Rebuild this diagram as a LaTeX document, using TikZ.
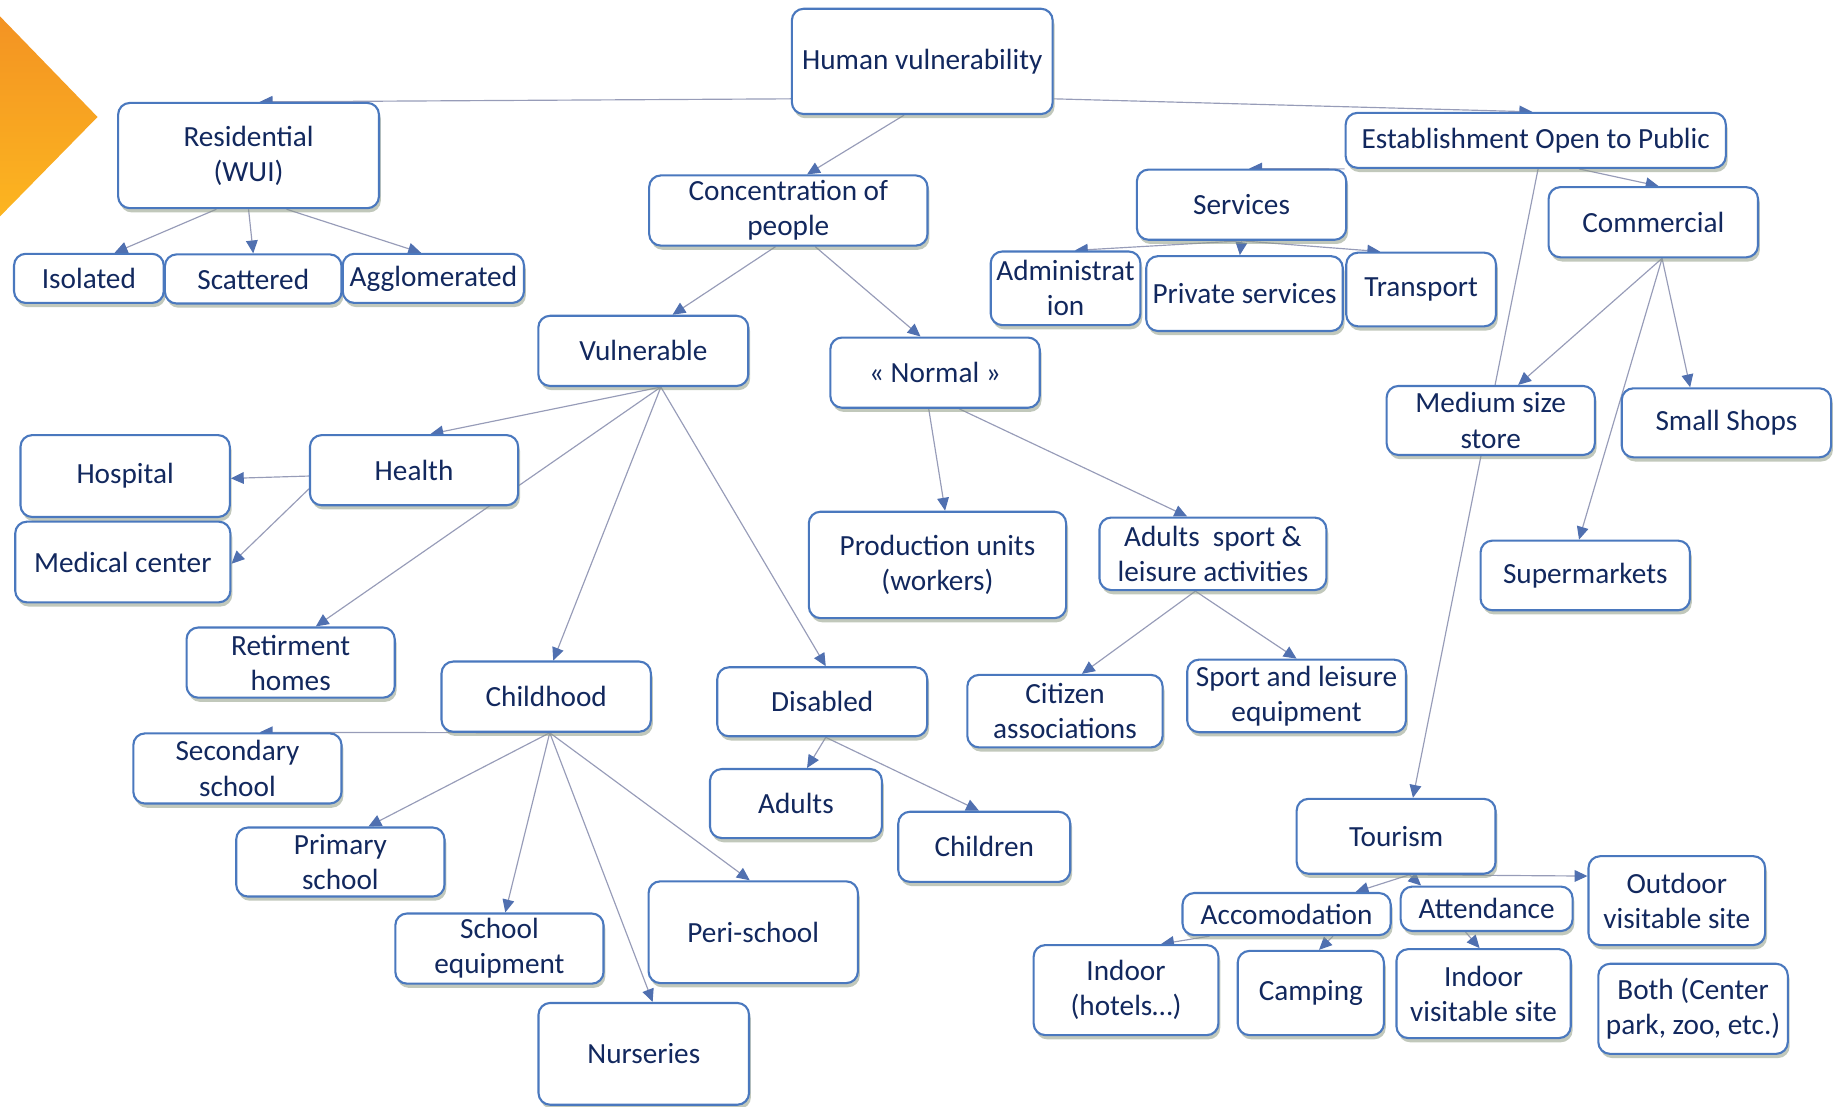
\documentclass[tikz,border=0pt]{standalone}
\usepackage{fontspec}
\setmainfont{Carlito}
\usepackage{tikz}
\usetikzlibrary{arrows.meta}
\usetikzlibrary{shadows}
\definecolor{azulcaja}{HTML}{4A78BE}
\definecolor{azultexto}{HTML}{12285E}
\definecolor{grislinea}{HTML}{979CB8}
\definecolor{azulflecha}{HTML}{5070B0}
\definecolor{sombra}{HTML}{8E9A84}
\definecolor{naranja}{HTML}{F39323}
\definecolor{amarillo}{HTML}{FCB520}
\pgfdeclarelayer{flechas}
\pgfsetlayers{flechas,main}
\tikzstyle{caja}=[draw=azulcaja,line width=0.9pt,fill=white,rounded corners=5pt,text=azultexto,align=center,inner sep=0pt,font=\fontsize{12.5}{15}\selectfont,drop shadow={shadow xshift=0.8pt,shadow yshift=-1.8pt,fill=sombra,opacity=0.55}]
\tikzstyle{linea}=[draw=grislinea,line width=0.5pt,-{Triangle[length=5.5pt,width=5pt,color=azulflecha]}]

\begin{document}
\begin{tikzpicture}[x=0.5pt,y=-0.5pt]
		\useasboundingbox (0,0) rectangle (1568,946);
		\shade [top color=naranja,bottom color=amarillo] (0,14) -- (83.4,100) -- (0,185) -- cycle;
		% cajas
		\node [style=caja,minimum width=111.5pt,minimum height=45pt] (hv) at (788.5,52.5) {Human vulnerability};
		\node [style=caja,minimum width=111.5pt,minimum height=45pt] (res) at (212.5,133) {Residential\\(WUI)};
		\node [style=caja,minimum width=64pt,minimum height=21pt] (iso) at (76,238) {Isolated};
		\node [style=caja,minimum width=75.5pt,minimum height=21pt] (scat) at (216.5,238.5) {Scattered};
		\node [style=caja,minimum width=77.5pt,minimum height=21pt] (agg) at (370.5,238) {Agglomerated};
		\node [style=caja,minimum width=119pt,minimum height=30pt] (conc) at (674,180) {Concentration of\\people};
		\node [style=caja,minimum width=162.5pt,minimum height=23.5pt] (eop) at (1313,120) {Establishment Open to Public};
		\node [style=caja,minimum width=89.5pt,minimum height=30pt] (serv) at (1061.5,175) {Services};
		\node [style=caja,minimum width=64pt,minimum height=31.5pt] (admin) at (911,246.5) {Administrat\\ion};
		\node [style=caja,minimum width=84pt,minimum height=32pt] (priv) at (1064,251) {Private services};
		\node [style=caja,minimum width=64pt,minimum height=31.5pt] (trans) at (1215,247.5) {Transport};
		\node [style=caja,minimum width=89.5pt,minimum height=30pt] (comm) at (1413.5,190) {Commercial};
		\node [style=caja,minimum width=89.75pt,minimum height=30pt] (vuln) at (550,300) {Vulnerable};
		\node [style=caja,minimum width=89.5pt,minimum height=30pt] (norm) at (799.4,318.6) {«~Normal~»};
		\node [style=caja,minimum width=89.5pt,minimum height=35pt] (hosp) at (107,407) {Hospital};
		\node [style=caja,minimum width=92pt,minimum height=34.5pt] (med) at (105,480.5) {Medical center};
		\node [style=caja,minimum width=89pt,minimum height=30pt] (health) at (354,402) {Health};
		\node [style=caja,minimum width=110pt,minimum height=45.5pt] (prod) at (801.5,483) {Production units\\(workers)};
		\node [style=caja,minimum width=97pt,minimum height=31pt] (adsp) at (1037,473.5) {Adults~ sport \&\\leisure activities};
		\node [style=caja,minimum width=89pt,minimum height=29.5pt] (medsize) at (1274.5,359.5) {Medium size\\store};
		\node [style=caja,minimum width=89.5pt,minimum height=29.5pt] (shops) at (1476,361.5) {Small Shops};
		\node [style=caja,minimum width=89.5pt,minimum height=29.75pt] (superm) at (1355.3,492) {Supermarkets};
		\node [style=caja,minimum width=89pt,minimum height=30pt] (retir) at (248.5,566.5) {Retirment\\homes};
		\node [style=caja,minimum width=89.5pt,minimum height=30pt] (child) at (467,595.6) {Childhood};
		\node [style=caja,minimum width=89.75pt,minimum height=29.5pt] (disab) at (703,600) {Disabled};
		\node [style=caja,minimum width=83.5pt,minimum height=31pt] (citiz) at (910.5,608) {Citizen\\associations};
		\node [style=caja,minimum width=93.5pt,minimum height=31pt] (slequip) at (1108.5,595) {Sport and leisure\\equipment};
		\node [style=caja,minimum width=89pt,minimum height=30pt] (second) at (203,657) {Secondary\\school};
		\node [style=caja,minimum width=73.5pt,minimum height=29.5pt] (adults) at (680.5,687) {Adults};
		\node [style=caja,minimum width=73.5pt,minimum height=30pt] (children) at (841.5,724) {Children};
		\node [style=caja,minimum width=89pt,minimum height=29.5pt] (primary) at (291,737) {Primary\\school};
		\node [style=caja,minimum width=85pt,minimum height=32pt] (tour) at (1193.6,715) {Tourism};
		\node [style=caja,minimum width=89pt,minimum height=18pt] (accom) at (1100,781.5) {Accomodation};
		\node [style=caja,minimum width=73.5pt,minimum height=19pt] (attend) at (1271,777) {Attendance};
		\node [style=caja,minimum width=75.5pt,minimum height=38pt] (outdoor) at (1433.6,770) {Outdoor\\visitable site};
		\node [style=caja,minimum width=89pt,minimum height=30pt] (schoolequip) at (427,811) {School\\equipment};
		\node [style=caja,minimum width=89.5pt,minimum height=43.5pt] (peri) at (644,797) {Peri-school};
		\node [style=caja,minimum width=90pt,minimum height=43.5pt] (nurs) at (550.4,901) {Nurseries};
		\node [style=caja,minimum width=79pt,minimum height=38.5pt] (hotels) at (962.7,846.5) {Indoor\\(hotels…)};
		\node [style=caja,minimum width=62.5pt,minimum height=36pt] (camping) at (1120.7,849) {Camping};
		\node [style=caja,minimum width=74.5pt,minimum height=38pt] (indoorvis) at (1268.4,849.5) {Indoor\\visitable site};
		\node [style=caja,minimum width=81pt,minimum height=38.5pt] (both) at (1447.5,862.5) {Both (Center\\park, zoo, etc.)};
		% conectores
		\begin{pgfonlayer}{flechas}
			\path [style=linea] ([yshift=-16pt]hv.west) -- ([xshift=4.75pt]res.north);
			\path [style=linea] ([yshift=-16pt]hv.east) -- ([xshift=-1.5pt]eop.north);
			\path [style=linea] ([xshift=-7.75pt]hv.south) -- ([xshift=8pt]conc.north);
			\path [style=linea] ([xshift=-13.75pt]res.south) -- ([xshift=11pt]iso.north);
			\path [style=linea] (res.south) -- (scat.north);
			\path [style=linea] ([xshift=16.25pt]res.south) -- ([xshift=-5.25pt]agg.north);
			\path [style=linea] ([xshift=-5.5pt]conc.south) -- ([xshift=12.5pt]vuln.north);
			\path [style=linea] ([xshift=11.5pt]conc.south) -- ([xshift=-6.2pt]norm.north);
			\path [style=linea] (eop.south west) -- ([xshift=3.25pt]serv.north);
			\path [style=linea] (serv.south) -- ([xshift=4pt]admin.north);
			\path [style=linea] (serv.south) -- ([xshift=-2pt]priv.north);
			\path [style=linea] (serv.south) -- ([xshift=-17.5pt]trans.north);
			\path [style=linea] ([xshift=18.5pt]eop.south) -- ([xshift=2.25pt]comm.north);
			\path [style=linea] ([xshift=1pt]eop.south) -- ([xshift=7.2pt]tour.north);
			\path [style=linea] ([xshift=3.75pt]comm.south) -- ([xshift=11.75pt]medsize.north);
			\path [style=linea] ([xshift=3.75pt]comm.south) -- ([xshift=-15.5pt]shops.north);
			\path [style=linea] ([xshift=3.75pt]comm.south) -- ([xshift=-2.65pt]superm.north);
			\path [style=linea] ([xshift=7.5pt]vuln.south) -- ([xshift=7pt]health.north);
			\path [style=linea] ([xshift=7.5pt]vuln.south) -- ([xshift=10.75pt]retir.north);
			\path [style=linea] ([xshift=7.5pt]vuln.south) -- ([xshift=3pt]child.north);
			\path [style=linea] ([xshift=7.5pt]vuln.south) -- ([xshift=1.5pt]disab.north);
			\path [style=linea] ([yshift=-2.5pt]health.west) -- ([yshift=-1pt]hosp.east);
			\path [style=linea] ([yshift=-8pt]health.west) -- ([yshift=-0.75pt]med.east);
			\path [style=linea] ([xshift=-2.7pt]norm.south) -- ([xshift=3.25pt]prod.north);
			\path [style=linea] ([xshift=10.3pt]norm.south) -- ([xshift=-11pt]adsp.north);
			\path [style=linea] ([xshift=-7.5pt]adsp.south) -- ([xshift=7.25pt]citiz.north);
			\path [style=linea] ([xshift=-7.5pt]adsp.south) -- (slequip.north);
			\path [style=linea] ([xshift=1.5pt]child.south) -- ([xshift=9.5pt]second.north);
			\path [style=linea] ([xshift=1.5pt]child.south) -- ([xshift=12pt]primary.north);
			\path [style=linea] ([xshift=1.5pt]child.south) -- ([xshift=2.5pt]schoolequip.north);
			\path [style=linea] ([xshift=1.5pt]child.south) -- ([xshift=3.8pt]nurs.north);
			\path [style=linea] ([xshift=1.5pt]child.south) -- ([xshift=-1.5pt]peri.north);
			\path [style=linea] ([xshift=1.5pt]disab.south) -- ([xshift=4.75pt]adults.north);
			\path [style=linea] ([xshift=1.5pt]disab.south) -- ([xshift=-2.25pt]children.north);
			\path [style=linea] ([xshift=5.7pt]tour.south) -- ([xshift=29.5pt]accom.north);
			\path [style=linea] ([xshift=5.7pt]tour.south) -- ([xshift=-28pt]attend.north);
			\path [style=linea] ([xshift=5.7pt]tour.south) -- ([yshift=10.5pt]outdoor.west);
			\path [style=linea] ([xshift=-33pt]accom.south) -- ([xshift=15pt]hotels.north);
			\path [style=linea] ([xshift=19.8pt]accom.south) -- ([xshift=3.5pt]camping.north);
			\path [style=linea] ([xshift=-9pt]attend.south) -- ([xshift=-1.7pt]indoorvis.north);
		\end{pgfonlayer}
\end{tikzpicture}
\end{document}
